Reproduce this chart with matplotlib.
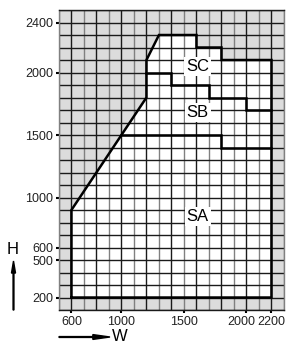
import matplotlib
matplotlib.use("Agg")
import matplotlib.pyplot as plt
import matplotlib.transforms as mtrans

# outer limit of the size range (white area)
outer_w = [600, 600, 1200, 1200, 1300, 1600, 1600, 1800, 1800, 2200, 2200, 600]
outer_h = [200, 900, 1800, 2100, 2300, 2300, 2200, 2200, 2100, 2100, 200, 200]

# SC / SB border
sc_sb_w = [1200, 1400, 1400, 1700, 1700, 2000, 2000, 2200]
sc_sb_h = [2000, 2000, 1900, 1900, 1800, 1800, 1700, 1700]

# SB / SA border
sb_sa_w = [1000, 1800, 1800, 2200]
sb_sa_h = [1500, 1500, 1400, 1400]

zone_names = ["SC", "SB", "SA"]
zone_w = [1610, 1610, 1610]
zone_h = [2050, 1680, 850]

xticks = [600, 1000, 1500, 2000, 2200]
yticks = [200, 500, 600, 1000, 1500, 2000, 2400]

plt.rcParams['font.family'] = ['Liberation Sans', 'DejaVu Sans']

fig = plt.figure(figsize=(2.86, 3.45), dpi=100)
ax = fig.add_axes([0.206, 0.1014, 0.787, 0.8696])
ax.set_xlim(500, 2300)
ax.set_ylim(100, 2500)
ax.set_facecolor("#dcdcdc")

ax.fill(outer_w, outer_h, color="white", zorder=1, lw=0)

# grid every 100
for x in range(500, 2301, 100):
    c = "#1a1a1a" if x % 200 == 0 else "#808080"
    ax.axvline(x, color=c, lw=1.0, zorder=2)
for y in range(100, 2501, 100):
    ax.axhline(y, color="#1a1a1a", lw=1.0, zorder=2)

ax.plot(outer_w, outer_h, color="black", lw=1.8, zorder=3, solid_joinstyle="miter")
ax.plot(sc_sb_w, sc_sb_h, color="black", lw=1.8, zorder=3, solid_joinstyle="miter")
ax.plot(sb_sa_w, sb_sa_h, color="black", lw=1.8, zorder=3, solid_joinstyle="miter")

for name, w, h in zip(zone_names, zone_w, zone_h):
    ax.text(w, h, name, fontsize=12, ha="center", va="center", zorder=4,
            bbox=dict(facecolor="white", edgecolor="none", pad=1.5))

for s in ["left", "right"]:
    ax.spines[s].set_color("#808080")
for s in ["top", "bottom"]:
    ax.spines[s].set_color("#1a1a1a")
for s in ax.spines.values():
    s.set_linewidth(1.0)

ax.set_xticks(xticks)
ax.set_yticks(yticks)
ax.tick_params(direction="out", length=2, width=1.5, color="black",
               labelsize=9, pad=2)
for lab in ax.get_xticklabels() + ax.get_yticklabels():
    lab.set_color("#222222")

# "2000" sits a little left of its tick so it clears "2200"
lab2000 = ax.get_xticklabels()[xticks.index(2000)]
lab2000.set_transform(lab2000.get_transform() +
                      mtrans.ScaledTranslation(-5 / 100, 0, fig.dpi_scale_trans))

# axis names with arrows
fig.text(13 / 286, 1 - 249.5 / 345, "H", fontsize=12, ha="center", va="center")
fig.text(119.5 / 286, 1 - 336.5 / 345, "W", fontsize=12, ha="center", va="center")
fig.patches.append(matplotlib.patches.FancyArrow(
    13.5 / 286, 1 - 310 / 345, 0, 49 / 345, width=0.003, head_width=0.014,
    head_length=0.035, length_includes_head=True, color="black",
    transform=fig.transFigure, figure=fig))
fig.patches.append(matplotlib.patches.FancyArrow(
    59 / 286, 1 - 337 / 345, 51 / 286, 0, width=0.0025, head_width=0.014,
    head_length=0.06, length_includes_head=True, color="black",
    transform=fig.transFigure, figure=fig))

fig.savefig("out.png", dpi=100)
